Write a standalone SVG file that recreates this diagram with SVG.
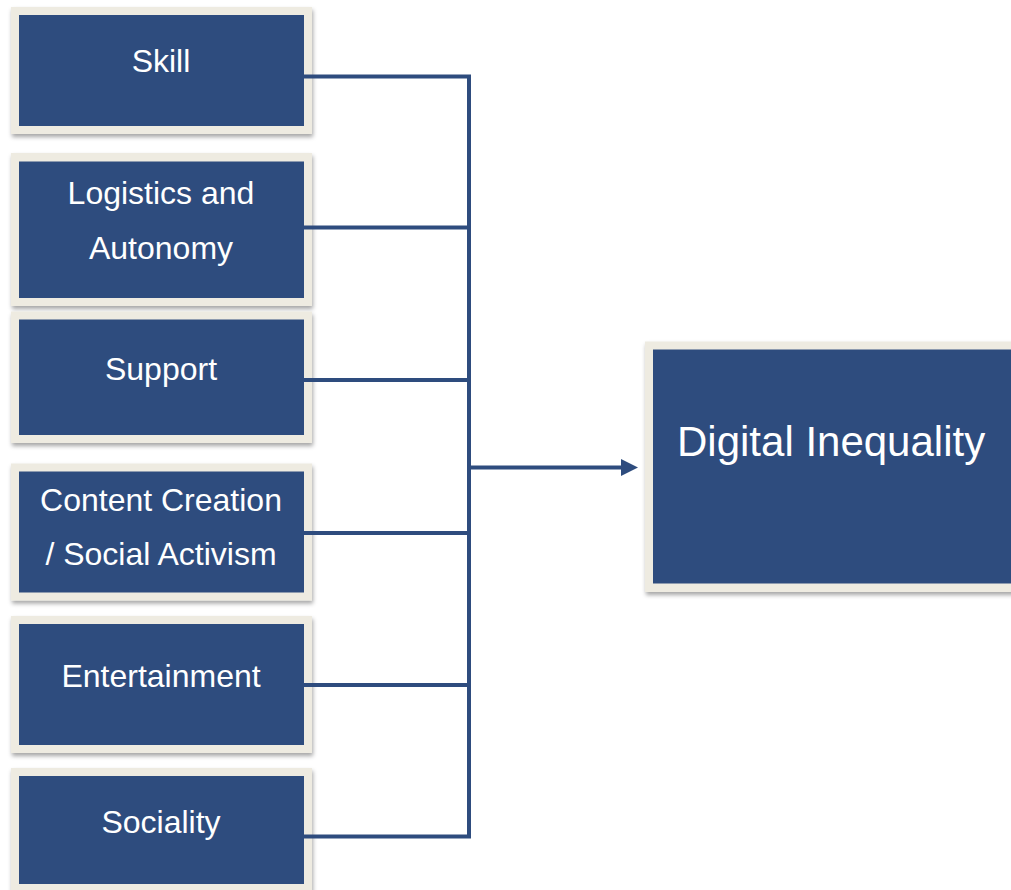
<svg xmlns="http://www.w3.org/2000/svg" width="1011" height="890" viewBox="0 0 1011 890">
  <style>
    .outer { fill: #EEEBE1; }
    .inner { fill: #2E4C7E; }
    .lbl { font-family: "Liberation Sans", Arial, sans-serif; font-size: 32px; fill: #FFFFFF; text-anchor: middle; }
    .big { font-family: "Liberation Sans", Arial, sans-serif; font-size: 42px; fill: #FFFFFF; }
    .conn { fill: none; stroke: #2E4C7E; stroke-width: 4; stroke-linejoin: miter; }
    .head { fill: #2E4C7E; }
  </style>
  <defs>
    <filter id="sh" x="-10%" y="-10%" width="120%" height="125%">
      <feDropShadow dx="1" dy="3" stdDeviation="2" flood-color="#000000" flood-opacity="0.35"/>
    </filter>
  </defs>
  <rect width="1011" height="890" fill="#FFFFFF"/>

  <g id="node-skill">
    <rect class="outer" x="11" y="7" width="301" height="127" filter="url(#sh)"/>
    <rect class="inner" x="19" y="15" width="285" height="111"/>
    <text class="lbl" x="161" y="72">Skill</text>
  </g>
  <g id="node-logistics">
    <rect class="outer" x="11" y="153" width="301" height="153" filter="url(#sh)"/>
    <rect class="inner" x="19" y="161.5" width="285" height="136.5"/>
    <text class="lbl" x="161" y="204">Logistics and</text>
    <text class="lbl" x="161" y="258.5">Autonomy</text>
  </g>
  <g id="node-support">
    <rect class="outer" x="11" y="311.5" width="301" height="131.5" filter="url(#sh)"/>
    <rect class="inner" x="19" y="319.5" width="285" height="115.5"/>
    <text class="lbl" x="161" y="380">Support</text>
  </g>
  <g id="node-content">
    <rect class="outer" x="11" y="463.5" width="301" height="137" filter="url(#sh)"/>
    <rect class="inner" x="19" y="471.5" width="285" height="121"/>
    <text class="lbl" x="161" y="511">Content Creation</text>
    <text class="lbl" x="161" y="565">/ Social Activism</text>
  </g>
  <g id="node-entertainment">
    <rect class="outer" x="11" y="616" width="301" height="137" filter="url(#sh)"/>
    <rect class="inner" x="19" y="624" width="285" height="121"/>
    <text class="lbl" x="161" y="687">Entertainment</text>
  </g>
  <g id="node-sociality">
    <rect class="outer" x="11" y="768" width="301" height="124" filter="url(#sh)"/>
    <rect class="inner" x="19" y="776" width="285" height="108"/>
    <text class="lbl" x="161" y="833">Sociality</text>
  </g>
  <g id="node-digital-inequality">
    <rect class="outer" x="645" y="341.5" width="380" height="250.5" filter="url(#sh)"/>
    <rect class="inner" x="653" y="349.5" width="370" height="234"/>
    <text class="big" x="677" y="456">Digital Inequality</text>
  </g>

  <g id="connectors">
    <polyline class="conn" points="304,76.5 469,76.5 469,836.5 304,836.5"/>
    <line class="conn" x1="304" y1="227.5" x2="469" y2="227.5"/>
    <line class="conn" x1="304" y1="380" x2="469" y2="380"/>
    <line class="conn" x1="304" y1="533" x2="469" y2="533"/>
    <line class="conn" x1="304" y1="685" x2="469" y2="685"/>
    <line class="conn" x1="469" y1="467.5" x2="624" y2="467.5"/>
    <polygon class="head" points="621,459 638,467.5 621,476"/>
  </g>
</svg>
